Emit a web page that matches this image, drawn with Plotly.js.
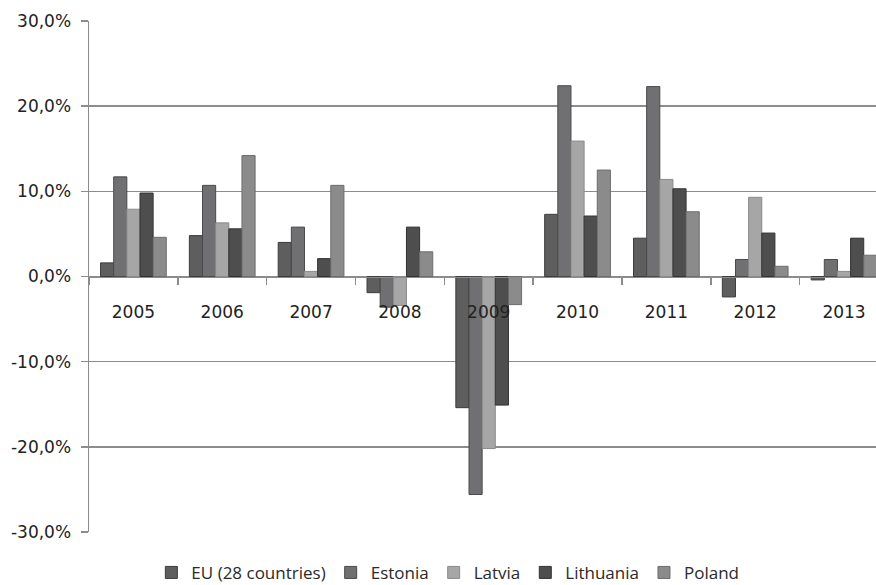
<!DOCTYPE html>
<html>
<head>
<meta charset="utf-8">
<script src="https://cdn.plot.ly/plotly-3.0.1.min.js"></script>
<style>
  html, body { margin: 0; padding: 0; background: #ffffff; }
  #chart { width: 876px; height: 585px; }
</style>
</head>
<body>
<div id="chart"></div>
<script>
// Annual growth rates, percent
const years = ['2005', '2006', '2007', '2008', '2009', '2010', '2011', '2012', '2013'];
const euValues         = [1.6, 4.8, 4.0, -1.9, -15.4, 7.3, 4.5, -2.4, -0.4];
const estoniaValues    = [11.7, 10.7, 5.8, -3.6, -25.6, 22.4, 22.3, 2.0, 2.0];
const latviaValues     = [7.9, 6.3, 0.6, -3.4, -20.2, 15.9, 11.4, 9.3, 0.6];
const lithuaniaValues  = [9.8, 5.6, 2.1, 5.8, -15.1, 7.1, 10.3, 5.1, 4.5];
const polandValues     = [4.6, 14.2, 10.7, 2.9, -3.3, 12.5, 7.6, 1.2, 2.5];

const seriesNames = ['EU (28 countries)', 'Estonia', 'Latvia', 'Lithuania', 'Poland'];
const yTickValues = [-30, -20, -10, 0, 10, 20, 30];
const yTickLabels = ['-30,0%', '-20,0%', '-10,0%', '0,0%', '10,0%', '20,0%', '30,0%'];

const seriesValues = [euValues, estoniaValues, latviaValues, lithuaniaValues, polandValues];
const fills   = ['#5e5e5e', '#707072', '#a6a6a6', '#4e4e4e', '#8b8b8b'];
const borders = ['#3c3c3c', '#4a4a4c', '#8a8a8a', '#333333', '#6c6c6c'];

const traces = seriesValues.map((vals, i) => ({
  type: 'bar',
  name: seriesNames[i],
  x: years,
  y: vals,
  marker: { color: fills[i], line: { color: borders[i], width: 1 } },
  hoverinfo: 'skip'
}));

const tickFont = { family: 'DejaVu Sans, sans-serif', size: 17, color: '#222222' };

const layout = {
  width: 876,
  height: 585,
  margin: { l: 89, r: 0, t: 21, b: 53, autoexpand: false },
  paper_bgcolor: '#ffffff',
  plot_bgcolor: '#ffffff',
  barmode: 'group',
  bargap: 0.26,
  bargroupgap: 0,
  showlegend: true,
  legend: {
    orientation: 'h',
    x: 0.456,
    xanchor: 'center',
    y: -0.08,
    yanchor: 'middle',
    font: { family: 'Open Sans, sans-serif', size: 17, color: '#2a2a2a' },
    itemwidth: 30
  },
  xaxis: {
    type: 'category',
    range: [-0.5, 8.36],
    anchor: 'free',
    position: 0.5,
    showline: true,
    linecolor: '#8c8c8c',
    linewidth: 1.5,
    ticks: 'outside',
    tickson: 'boundaries',
    ticklen: 7,
    tickcolor: '#8c8c8c',
    tickwidth: 1.5,
    ticklabelstandoff: 20,
    showgrid: false,
    zeroline: false,
    tickfont: tickFont
  },
  yaxis: {
    range: [-30, 30],
    tickvals: yTickValues,
    ticktext: yTickLabels,
    showline: true,
    linecolor: '#8c8c8c',
    linewidth: 1.5,
    ticks: 'outside',
    ticklen: 7,
    tickcolor: '#8c8c8c',
    tickwidth: 1.5,
    ticklabelstandoff: 6,
    showgrid: true,
    gridcolor: '#8c8c8c',
    gridwidth: 1.5,
    zeroline: false,
    tickfont: tickFont
  }
};

Plotly.newPlot('chart', traces, layout, { displayModeBar: false, staticPlot: true });
</script>
</body>
</html>
